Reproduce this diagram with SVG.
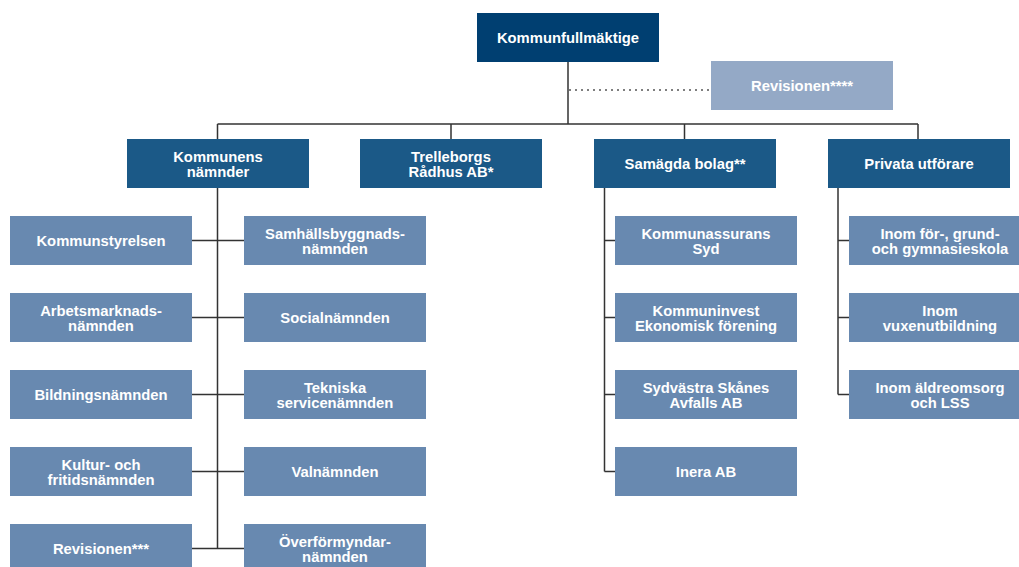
<svg xmlns="http://www.w3.org/2000/svg" width="1019" height="567" viewBox="0 0 1019 567">
<style>
text{font-family:"Liberation Sans",Arial,sans-serif;font-weight:bold;font-size:14.8px;fill:#fff;text-anchor:middle}
.top{fill:#003f71}
.l2{fill:#1b5987}
.l3{fill:#6889b0}
.rev{fill:#94a9c6}
.c{stroke:#333;stroke-width:1.5;fill:none}
.d{stroke:#555;stroke-width:1.5;fill:none;stroke-dasharray:2 4}
</style>
<rect width="1019" height="567" fill="#fff"/>
<g id="connectors">
<path class="c" d="M568,62V124M217.5,124H918M217.5,124V139M451,124V139M684.5,124V139M918,124V139"/>
<path class="d" d="M569,90H711"/>
<path class="c" d="M217.5,188V548.5M192,240.5H244M192,317.5H244M192,394.5H244M192,471.5H244M192,548.5H244"/>
<path class="c" d="M604.5,188V471.5M604.5,240.5H615M604.5,317.5H615M604.5,394.5H615M604.5,471.5H615"/>
<path class="c" d="M838,188V394.5M838,240.5H849M838,317.5H849M838,394.5H849"/>
</g>
<g id="kommunfullmaktige"><rect class="top" x="477" y="13" width="182" height="49"/><text x="568" y="42.8">Kommunfullmäktige</text></g>
<g id="revisionen4"><rect class="rev" x="711" y="61" width="182" height="49"/><text x="802" y="90.8">Revisionen****</text></g>
<g id="kommunens-namnder"><rect class="l2" x="127" y="139" width="182" height="49"/><text x="218" y="162">Kommunens</text><text x="218" y="177">nämnder</text></g>
<g id="trelleborgs-radhus"><rect class="l2" x="360" y="139" width="182" height="49"/><text x="451" y="162">Trelleborgs</text><text x="451" y="177">Rådhus AB*</text></g>
<g id="samagda-bolag"><rect class="l2" x="594" y="139" width="182" height="49"/><text x="685" y="168.8">Samägda bolag**</text></g>
<g id="privata-utforare"><rect class="l2" x="828" y="139" width="182" height="49"/><text x="919" y="168.8">Privata utförare</text></g>
<g id="kommunstyrelsen"><rect class="l3" x="10" y="216" width="182" height="49"/><text x="101" y="245.8">Kommunstyrelsen</text></g>
<g id="arbetsmarknadsnamnden"><rect class="l3" x="10" y="293" width="182" height="49"/><text x="101" y="315.8">Arbetsmarknads-</text><text x="101" y="330.5">nämnden</text></g>
<g id="bildningsnamnden"><rect class="l3" x="10" y="370" width="182" height="49"/><text x="101" y="399.8">Bildningsnämnden</text></g>
<g id="kultur-fritidsnamnden"><rect class="l3" x="10" y="447" width="182" height="49"/><text x="101" y="469.8">Kultur- och</text><text x="101" y="484.5">fritidsnämnden</text></g>
<g id="revisionen3"><rect class="l3" x="10" y="524" width="182" height="49"/><text x="101" y="553.8">Revisionen***</text></g>
<g id="samhallsbyggnadsnamnden"><rect class="l3" x="244" y="216" width="182" height="49"/><text x="335" y="238.8">Samhällsbyggnads-</text><text x="335" y="253.5">nämnden</text></g>
<g id="socialnamnden"><rect class="l3" x="244" y="293" width="182" height="49"/><text x="335" y="322.8">Socialnämnden</text></g>
<g id="tekniska-servicenamnden"><rect class="l3" x="244" y="370" width="182" height="49"/><text x="335" y="392.8">Tekniska</text><text x="335" y="407.5">servicenämnden</text></g>
<g id="valnamnden"><rect class="l3" x="244" y="447" width="182" height="49"/><text x="335" y="476.8">Valnämnden</text></g>
<g id="overformyndarnamnden"><rect class="l3" x="244" y="524" width="182" height="49"/><text x="335" y="546.8">Överförmyndar-</text><text x="335" y="561.5">nämnden</text></g>
<g id="kommunassurans"><rect class="l3" x="615" y="216" width="182" height="49"/><text x="706" y="238.8">Kommunassurans</text><text x="706" y="253.5">Syd</text></g>
<g id="kommuninvest"><rect class="l3" x="615" y="293" width="182" height="49"/><text x="706" y="315.8">Kommuninvest</text><text x="706" y="330.5">Ekonomisk förening</text></g>
<g id="sydvastra-skanes"><rect class="l3" x="615" y="370" width="182" height="49"/><text x="706" y="392.8">Sydvästra Skånes</text><text x="706" y="407.5">Avfalls AB</text></g>
<g id="inera"><rect class="l3" x="615" y="447" width="182" height="49"/><text x="706" y="476.8">Inera AB</text></g>
<g id="inom-skola"><rect class="l3" x="849" y="216" width="182" height="49"/><text x="940" y="238.8">Inom för-, grund-</text><text x="940" y="253.5">och gymnasieskola</text></g>
<g id="inom-vuxen"><rect class="l3" x="849" y="293" width="182" height="49"/><text x="940" y="315.8">Inom</text><text x="940" y="330.5">vuxenutbildning</text></g>
<g id="inom-aldreomsorg"><rect class="l3" x="849" y="370" width="182" height="49"/><text x="940" y="392.8">Inom äldreomsorg</text><text x="940" y="407.5">och LSS</text></g>
</svg>
